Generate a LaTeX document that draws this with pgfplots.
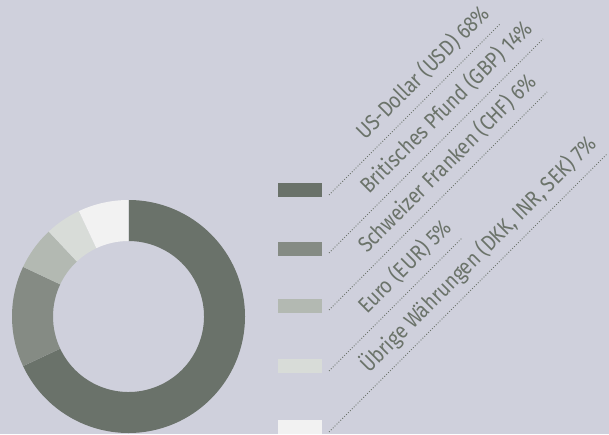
\documentclass[border=0pt]{standalone}
\usepackage{pgfplots}
\pgfplotsset{compat=1.18}
\usepackage{fontspec}
\setmainfont{Fira Sans}[FakeStretch=0.87]
\definecolor{bg}{RGB}{207,208,220}
\definecolor{cusd}{RGB}{106,114,106}
\definecolor{cgbp}{RGB}{133,139,132}
\definecolor{cchf}{RGB}{179,185,178}
\definecolor{ceur}{RGB}{216,220,216}
\definecolor{coth}{RGB}{242,242,242}
\definecolor{tc}{RGB}{107,115,106}
% share (percent) / colour
\def\shares{68/cusd,14/cgbp,6/cchf,5/ceur,7/coth}
\begin{document}
\begin{tikzpicture}
\begin{axis}[
  scale only axis, width=609pt, height=434pt,
  xmin=0, xmax=609, ymin=0, ymax=434,
  hide axis, clip=true,
]
\fill[bg] (axis cs:0,0) rectangle (axis cs:609,434);
% donut
\gdef\acc{90}
\foreach \v/\c in \shares {
  \pgfmathsetmacro\s{\acc}
  \pgfmathsetmacro\e{\acc-3.6*\v}
  \xdef\acc{\e}
  \edef\temp{\noexpand\fill[\c] ([shift={(\s:116.5pt)}]axis cs:128.5,117.5) arc[start angle=\s,end angle=\e,radius=116.5pt] -- ([shift={(\e:75.5pt)}]axis cs:128.5,117.5) arc[start angle=\e,end angle=\s,radius=75.5pt] -- cycle;}
  \temp
}
% legend swatches
\fill[cusd] (axis cs:278,237.3) rectangle (axis cs:322,250.7);
\fill[cgbp] (axis cs:278,178.3) rectangle (axis cs:322,192.3);
\fill[cchf] (axis cs:278,121) rectangle (axis cs:322,135);
\fill[ceur] (axis cs:278,61) rectangle (axis cs:322,75);
\fill[coth] (axis cs:278,0) rectangle (axis cs:322,14);
% leader lines
\begin{scope}[tc, line width=0.9pt, dash pattern=on 0.9pt off 1.8pt]
\draw (axis cs:329,239) -- (axis cs:500,410);
\draw (axis cs:329,181) -- (axis cs:543,395);
\draw (axis cs:329,124) -- (axis cs:547,342);
\draw (axis cs:329,63) -- (axis cs:462,196);
\draw (axis cs:329,2) -- (axis cs:607,280);
\end{scope}
% labels
\begin{scope}[every node/.style={rotate=45, anchor=base east, text=tc, inner sep=0pt, font=\fontsize{22}{22}\selectfont}]
\node at ([shift={(-9pt,9pt)}]axis cs:500,410) {US-Dollar (USD) 68\%};
\node at ([shift={(-9pt,9pt)}]axis cs:543,395) {Britisches Pfund (GBP) 14\%};
\node at ([shift={(-9pt,9pt)}]axis cs:547,342) {Schweizer Franken (CHF) 6\%};
\node at ([shift={(-9pt,9pt)}]axis cs:462,196) {Euro (EUR) 5\%};
\node at ([shift={(-9pt,9pt)}]axis cs:607,280) {Übrige Währungen (DKK, INR, SEK) 7\%};
\end{scope}
\end{axis}
\end{tikzpicture}
\end{document}
